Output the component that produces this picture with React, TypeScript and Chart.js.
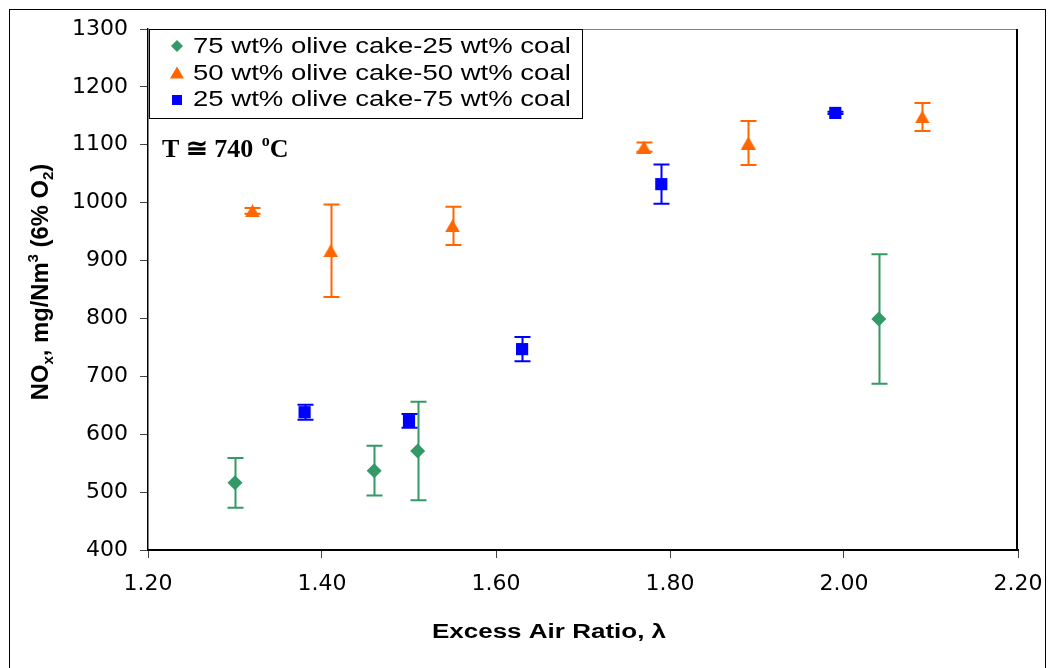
import React, { useEffect, useRef } from 'react';
import { Chart, registerables } from 'chart.js';

Chart.register(...registerables);

// Series: NOx emission vs. excess air ratio for three olive cake / coal blends
const blendLabels = [
  '75 wt% olive cake-25 wt% coal',
  '50 wt% olive cake-50 wt% coal',
  '25 wt% olive cake-75 wt% coal',
];
const blendColors = ['#339966', '#FF6600', '#0000FF'];

const lambda75 = [1.30, 1.46, 1.51, 2.04];
const nox75 = [516, 537, 571, 799];
const err75 = [43, 43, 85, 112];

const lambda50 = [1.32, 1.41, 1.55, 1.77, 1.89, 2.09];
const nox50 = [986, 917, 960, 1096, 1103, 1148];
const err50 = [5, 80, 33, 8, 38, 24];

const lambda25 = [1.38, 1.50, 1.63, 1.79, 1.99];
const nox25 = [638, 623, 747, 1032, 1155];
const err25 = [13, 12, 21, 34, 2];

const xTickValues = [1.2, 1.4, 1.6, 1.8, 2.0, 2.2];
const yTickMin = 400;
const yTickMax = 1300;
const yTickStep = 100;

const W = 1051;
const H = 668;

function triangleMarker(color: string, w: number, h: number) {
  const c = document.createElement('canvas');
  c.width = w;
  c.height = h;
  const g = c.getContext('2d')!;
  g.fillStyle = color;
  g.beginPath();
  g.moveTo(w / 2, 0);
  g.lineTo(w, h);
  g.lineTo(0, h);
  g.closePath();
  g.fill();
  return c;
}

function drawStretched(ctx: CanvasRenderingContext2D, text: string, x: number, y: number, font: string, sx: number, align: CanvasTextAlign = 'left') {
  ctx.save();
  ctx.font = font;
  ctx.textAlign = align;
  ctx.textBaseline = 'alphabetic';
  ctx.translate(x, y);
  ctx.scale(sx, 1);
  ctx.fillText(text, 0, 0);
  ctx.restore();
}

// Vertical error bars with caps, drawn beneath the markers
const errorBarPlugin = {
  id: 'errorBars',
  beforeDatasetsDraw(chart: any) {
    const { ctx, scales } = chart;
    const xs = scales.x;
    const ys = scales.y;
    chart.data.datasets.forEach((ds: any) => {
      const errs: number[] = ds.errors || [];
      ctx.save();
      ctx.strokeStyle = ds.backgroundColor;
      ctx.lineWidth = 2;
      ds.data.forEach((p: any, j: number) => {
        const e = errs[j] || 0;
        const px = Math.round(xs.getPixelForValue(p.x)) + 0.5;
        const top = ys.getPixelForValue(p.y + e);
        const bot = ys.getPixelForValue(p.y - e);
        ctx.beginPath();
        ctx.moveTo(px, top);
        ctx.lineTo(px, bot);
        ctx.moveTo(px - 8, top);
        ctx.lineTo(px + 8, top);
        ctx.moveTo(px - 8, bot);
        ctx.lineTo(px + 8, bot);
        ctx.stroke();
      });
      ctx.restore();
    });
  },
};

// Frame, legend box, temperature note and axis titles
const decorPlugin = {
  id: 'decor',
  afterDraw(chart: any) {
    const { ctx, chartArea } = chart;
    const { left, top, right, bottom } = chartArea;
    ctx.save();

    // outer border
    ctx.strokeStyle = '#000';
    ctx.lineWidth = 1;
    ctx.strokeRect(9.5, 9.5, 1036, H + 20);

    // plot frame: top and right edges
    ctx.strokeStyle = '#808080';
    ctx.beginPath();
    ctx.moveTo(left, top + 0.5);
    ctx.lineTo(right, top + 0.5);
    ctx.stroke();
    ctx.strokeStyle = '#000';
    ctx.lineWidth = 2;
    ctx.beginPath();
    ctx.moveTo(right - 1, top);
    ctx.lineTo(right - 1, bottom);
    ctx.stroke();

    // legend box
    const lx = left + 1;
    const ly = top;
    ctx.fillStyle = '#fff';
    ctx.fillRect(lx, ly, 433, 89);
    ctx.strokeStyle = '#000';
    ctx.lineWidth = 1;
    ctx.strokeRect(lx + 0.5, ly + 0.5, 433, 89);

    const rowY = [ly + 24, ly + 50.5, ly + 77];
    const mx = lx + 28;
    // diamond
    ctx.fillStyle = blendColors[0];
    ctx.beginPath();
    ctx.moveTo(mx, rowY[0] - 13);
    ctx.lineTo(mx + 6, rowY[0] - 7);
    ctx.lineTo(mx, rowY[0] - 1);
    ctx.lineTo(mx - 6, rowY[0] - 7);
    ctx.closePath();
    ctx.fill();
    // triangle
    ctx.fillStyle = blendColors[1];
    ctx.beginPath();
    ctx.moveTo(mx, rowY[1] - 13);
    ctx.lineTo(mx + 7, rowY[1] - 1);
    ctx.lineTo(mx - 7, rowY[1] - 1);
    ctx.closePath();
    ctx.fill();
    // square
    ctx.fillStyle = blendColors[2];
    ctx.fillRect(mx - 5, rowY[2] - 11, 10, 10);

    ctx.fillStyle = '#000';
    blendLabels.forEach((t, i) => {
      drawStretched(ctx, t, lx + 44, rowY[i], '21.5px "Liberation Sans", Arial, sans-serif', 1.28);
    });

    // temperature note
    const tFont = 'bold 26px "Liberation Serif", "Times New Roman", serif';
    const supFont = 'bold 16px "Liberation Serif", "Times New Roman", serif';
    ctx.textAlign = 'left';
    ctx.textBaseline = 'alphabetic';
    ctx.font = tFont;
    let tx = 162;
    const tb = 157;
    const part1 = 'T \u2245 740 ';
    ctx.fillText(part1, tx, tb);
    tx += ctx.measureText(part1).width + 2;
    ctx.font = supFont;
    ctx.fillText('o', tx, tb - 11);
    tx += ctx.measureText('o').width;
    ctx.font = tFont;
    ctx.fillText('C', tx, tb);

    // x-axis title
    drawStretched(ctx, 'Excess Air Ratio, \u03bb', 549, 638, 'bold 20px "Liberation Sans", Arial, sans-serif', 1.3, 'center');

    // y-axis title (rotated, with sub/superscripts)
    const runs = [
      { t: 'NO', k: 0 },
      { t: 'x', k: 1 },
      { t: ', mg/Nm', k: 0 },
      { t: '3', k: -1 },
      { t: ' (6% O', k: 0 },
      { t: '2', k: 1 },
      { t: ')', k: 0 },
    ];
    const big = 'bold 22px "Liberation Sans", Arial, sans-serif';
    const small = 'bold 14px "Liberation Sans", Arial, sans-serif';
    let total = 0;
    runs.forEach((r) => {
      ctx.font = r.k === 0 ? big : small;
      total += ctx.measureText(r.t).width;
    });
    const along = 1.08;
    ctx.translate(40, 282);
    ctx.rotate(-Math.PI / 2);
    ctx.scale(along, 1.1);
    let u = -total / 2;
    const base = 7;
    runs.forEach((r) => {
      ctx.font = r.k === 0 ? big : small;
      const off = r.k === 1 ? 5 : r.k === -1 ? -9 : 0;
      ctx.fillText(r.t, u, base + off);
      u += ctx.measureText(r.t).width;
    });

    ctx.restore();
  },
};

export default function App() {
  const ref = useRef<HTMLCanvasElement | null>(null);

  useEffect(() => {
    if (!ref.current) return;
    const tri = triangleMarker(blendColors[1], 15, 13);
    const pts = (xs: number[], ys: number[]) => xs.map((x, i) => ({ x, y: ys[i] }));

    const chart = new Chart(ref.current, {
      type: 'scatter',
      data: {
        datasets: [
          {
            label: blendLabels[0],
            data: pts(lambda75, nox75),
            errors: err75,
            backgroundColor: blendColors[0],
            borderColor: blendColors[0],
            borderWidth: 0,
            pointStyle: 'rectRot',
            pointRadius: 7.5,
          } as any,
          {
            label: blendLabels[1],
            data: pts(lambda50, nox50),
            errors: err50,
            backgroundColor: blendColors[1],
            borderColor: blendColors[1],
            borderWidth: 0,
            pointStyle: tri,
            pointRadius: 8,
          } as any,
          {
            label: blendLabels[2],
            data: pts(lambda25, nox25),
            errors: err25,
            backgroundColor: blendColors[2],
            borderColor: blendColors[2],
            borderWidth: 0,
            pointStyle: 'rect',
            pointRadius: 8.6,
          } as any,
        ],
      },
      options: {
        responsive: false,
        maintainAspectRatio: false,
        animation: false,
        devicePixelRatio: 1,
        layout: { padding: { left: 0, top: 29, right: 33, bottom: 0 } },
        plugins: { legend: { display: false }, tooltip: { enabled: false } },
        scales: {
          x: {
            type: 'linear',
            min: xTickValues[0],
            max: xTickValues[xTickValues.length - 1],
            afterBuildTicks: (s: any) => {
              s.ticks = xTickValues.map((v) => ({ value: v }));
            },
            afterFit: (s: any) => {
              s.height = 118;
              s.paddingLeft = 0;
              s.paddingRight = 0;
            },
            border: { display: true, color: '#000', width: 2 },
            grid: { display: true, drawOnChartArea: false, drawTicks: true, tickLength: 8, color: '#444', lineWidth: 1 },
            ticks: {
              color: '#000',
              padding: 13,
              maxRotation: 0,
              autoSkip: false,
              font: { family: '"DejaVu Sans", sans-serif', size: 22 },
              callback: (v: any) => Number(v).toFixed(2),
            },
          },
          y: {
            type: 'linear',
            min: yTickMin,
            max: yTickMax,
            afterFit: (s: any) => {
              s.width = 148;
            },
            border: { display: true, color: '#000', width: 1.5 },
            grid: { display: true, drawOnChartArea: false, drawTicks: true, tickLength: 8, color: '#444', lineWidth: 1 },
            ticks: {
              stepSize: yTickStep,
              color: '#000',
              padding: 12,
              autoSkip: false,
              font: { family: '"DejaVu Sans", sans-serif', size: 22 },
              callback: (v: any) => String(Math.round(Number(v))),
            },
          },
        },
      } as any,
      plugins: [errorBarPlugin, decorPlugin],
    });
    return () => chart.destroy();
  }, []);

  return (
    <div style={{ position: 'fixed', left: 0, top: 0, width: W, height: H, background: '#fff' }}>
      <canvas ref={ref} width={W} height={H} style={{ width: W, height: H, display: 'block' }} />
    </div>
  );
}
